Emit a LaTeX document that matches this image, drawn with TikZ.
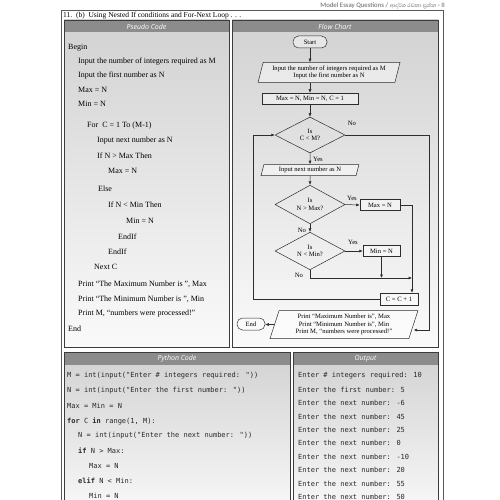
\documentclass[tikz,border=0pt]{standalone}
\usepackage{fontspec}
\setmainfont{Liberation Serif}
\newfontfamily\hdrfont{Open Sans}
\newfontfamily\codefont{DejaVu Sans Mono}
\newfontfamily\topfont{Carlito}
\newfontfamily\sinfont[Script=Sinhala]{Abhaya Libre}
\usetikzlibrary{shapes.geometric,arrows.meta,calc}
\definecolor{bar}{RGB}{140,140,140}
\definecolor{edge}{RGB}{60,60,60}
\definecolor{panelTop}{RGB}{210,210,210}
\definecolor{panelBot}{RGB}{250,250,250}
\definecolor{ln}{RGB}{45,45,45}
\definecolor{codetx}{RGB}{40,40,40}
\begin{document}
\begin{tikzpicture}[x=1pt,y=-1pt,
  pc/.style={anchor=west, inner sep=0pt, font=\fontsize{8}{9}\selectfont},
  cd/.style={anchor=west, inner sep=0pt, text=codetx, font=\codefont\fontsize{7}{8}\selectfont},
  hdr/.style={font=\hdrfont\itshape\fontsize{7}{8}\selectfont, text=white, inner sep=0pt},
  fcf/.style={font=\fontsize{6.6}{7.4}\selectfont},
  fbox/.style={fcf, draw=ln, line width=0.5pt, inner sep=0pt, align=center, fill=white, fill opacity=0.45, text opacity=1},
  rbox/.style={fbox, rectangle},
  term/.style={fbox, rectangle, rounded corners=5.5pt},
  para/.style={fbox, trapezium, trapezium left angle=72, trapezium right angle=108, trapezium stretches=true},
  dia/.style={fbox, diamond, fill=none},
  lbl/.style={fcf, inner sep=0pt},
  arr/.style={draw=ln, line width=0.5pt, -{Latex[length=3.5pt,width=3pt]}},
  paneledge/.style={draw=edge, line width=0.7pt}
]
\useasboundingbox (0,0) rectangle (500,500);
\fill[white] (0,0) rectangle (500,500);

% top header
\node[anchor=east, inner sep=0pt, text=gray!75!black, font=\topfont\fontsize{6.8}{8}\selectfont] (toph) at (445,5.5) {Model Essay Questions / {\sinfont ආදර්ශ රචනා ප්‍රශ්න} - II};

% outer frame
\draw[draw=gray!70!black, line width=0.5pt] (61,10) rectangle (443,506);
\node[anchor=west, inner sep=0pt, font=\fontsize{7.5}{9}\selectfont] (title) at (63,15.5) {11.\ \ (b)\ \ Using Nested If conditions and For-Next Loop . . .};

% panels
\shade[top color=panelTop, bottom color=panelBot] (64,20) rectangle (229,347);
\shade[top color=panelTop, bottom color=panelBot] (232,20) rectangle (438,347);
\shade[top color=panelTop, bottom color=panelBot] (64,352) rectangle (290,520);
\shade[top color=panelTop, bottom color=panelBot] (293,352) rectangle (438,520);
\fill[bar] (64,20) rectangle (229,32.5);
\fill[bar] (232,20) rectangle (438,32.5);
\fill[bar] (64,352) rectangle (290,364.5);
\fill[bar] (293,352) rectangle (438,364.5);
\draw[paneledge] (64,20) rectangle (229,347);
\draw[paneledge] (232,20) rectangle (438,347);
\draw[paneledge] (64,352) rectangle (290,520);
\draw[paneledge] (293,352) rectangle (438,520);
\node[hdr] (h1) at (146.5,26.5) {Pseudo Code};
\node[hdr] (h2) at (335,26.5) {Flow Chart};
\node[hdr] (h3) at (177,358.5) {Python Code};
\node[hdr] (h4) at (365.5,358.5) {Output};

% pseudo code
\node[pc] (p1) at (68,47.5) {Begin};
\node[pc] (p2) at (78,62) {Input the number of integers required as M};
\node[pc] (p3) at (78,76) {Input the first number as N};
\node[pc] (p4) at (78,90) {Max = N};
\node[pc] (p5) at (78,104) {Min = N};
\node[pc] (p6) at (87,126) {For\ \ C = 1 To (M-1)};
\node[pc] (p7) at (97,141) {Input next number as N};
\node[pc] (p8) at (97,156) {If N > Max Then};
\node[pc] (p9) at (108,171) {Max = N};
\node[pc] (p10) at (98,189) {Else};
\node[pc] (p11) at (108,205) {If N < Min Then};
\node[pc] (p12) at (126,221) {Min = N};
\node[pc] (p13) at (118,237) {EndIf};
\node[pc] (p14) at (108,252) {EndIf};
\node[pc] (p15) at (94,267) {Next C};
\node[pc] (p16) at (78,284) {Print “The Maximum Number is ”, Max};
\node[pc] (p17) at (78,299) {Print “The Minimum Number is ”, Min};
\node[pc] (p18) at (78,314) {Print M, “numbers were processed!”};
\node[pc] (p19) at (68,329) {End};

% flow chart
\node[term, minimum width=34pt, minimum height=12pt] (start) at (310,42) {Start};
\node[para, minimum width=142pt, minimum height=20pt] (in1) at (329,72.5) {Input the number of integers required as M\\Input the first number as N};
\node[rbox, minimum width=96pt, minimum height=11pt] (init) at (310,98.5) {Max = N, Min = N, C = 1};
\node[dia, minimum width=70pt, minimum height=36pt] (d1) at (310,135) {Is\\C < M?};
\node[para, minimum width=98pt, minimum height=11pt] (in2) at (310,170) {Input next number as N};
\node[dia, minimum width=70pt, minimum height=35pt] (d2) at (310,204.5) {Is\\N > Max?};
\node[rbox, minimum width=40pt, minimum height=11pt] (maxb) at (380,205) {Max = N};
\node[dia, minimum width=70pt, minimum height=34pt] (d3) at (310,251) {Is\\N < Min?};
\node[rbox, minimum width=37pt, minimum height=11pt] (minb) at (381.5,251) {Min = N};
\node[rbox, minimum width=38pt, minimum height=12pt] (cc) at (399,299) {C = C + 1};
\node[para, minimum width=148pt, minimum height=28pt] (pr) at (344,324.5) {Print “Maximum Number is”, Max\\Print “Minimum Number is”, Min\\Print M, “numbers were processed!”};
\node[term, minimum width=28pt, minimum height=12pt] (endn) at (251,324) {End};

\node[lbl] (l1) at (352,123) {No};
\node[lbl] (l2) at (318,159) {Yes};
\node[lbl] (l3) at (352,198) {Yes};
\node[lbl] (l4) at (302,230) {No};
\node[lbl] (l5) at (353,242) {Yes};
\node[lbl] (l6) at (299,275) {No};

\coordinate (j1) at (310,278);
\coordinate (rx) at (412,205);
\coordinate (lb) at (253,299);
\coordinate (nr) at (429,135);
\coordinate (nb) at (429,330);

\draw[arr] (start.south) -- (start.south |- in1.north);
\draw[arr] (in1.south -| init.north) -- (init.north);
\draw[arr] (init.south) -- (d1.north);
\draw[arr] (d1.south) -- (in2.north);
\draw[arr] (in2.south) -- (d2.north);
\draw[arr] (d2.east) -- (maxb.west);
\draw[arr] (d2.south) -- (d3.north);
\draw[arr] (d3.east) -- (d3.east -| minb.west);
\draw[arr] (d3.south) -- (j1) -- (j1 -| rx);
\draw[arr] (minb.south) -- (minb.south |- j1);
\draw[arr] (maxb.east) -- (rx) -- (rx |- cc.north);
\draw[arr] (cc.west) -- (lb) -- (lb |- d1.west) -- (d1.west);
\draw[arr] (d1.east) -- (nr) -- (nb) -- (pr.east |- nb);
\draw[arr] (pr.west) -- (pr.west -| endn.east);

% python code
\node[cd] (c1) at (67,376) {M = int(input("Enter \# integers required: "))};
\node[cd] (c2) at (67,391) {N = int(input("Enter the first number: "))};
\node[cd] (c3) at (67,406) {Max = Min = N};
\node[cd] (c4) at (67,421) {{\bfseries for} C {\bfseries in} range(1, M):};
\node[cd] (c5) at (78,436) {N = int(input("Enter the next number: "))};
\node[cd] (c6) at (78,451) {{\bfseries if} N > Max:};
\node[cd] (c7) at (89,466) {Max = N};
\node[cd] (c8) at (78,481) {{\bfseries elif} N < Min:};
\node[cd] (c9) at (89,496) {Min = N};

% output
\node[cd] (o1) at (298,376) {Enter \# integers required: 10};
\node[cd] (o2) at (298,389.5) {Enter the first number: 5};
\node[cd] (o3) at (298,403) {Enter the next number: -6};
\node[cd] (o4) at (298,416.5) {Enter the next number: 45};
\node[cd] (o5) at (298,430) {Enter the next number: 25};
\node[cd] (o6) at (298,443) {Enter the next number: 0};
\node[cd] (o7) at (298,456.5) {Enter the next number: -10};
\node[cd] (o8) at (298,470) {Enter the next number: 20};
\node[cd] (o9) at (298,483.5) {Enter the next number: 55};
\node[cd] (o10) at (298,497) {Enter the next number: 50};
\end{tikzpicture}
\end{document}
